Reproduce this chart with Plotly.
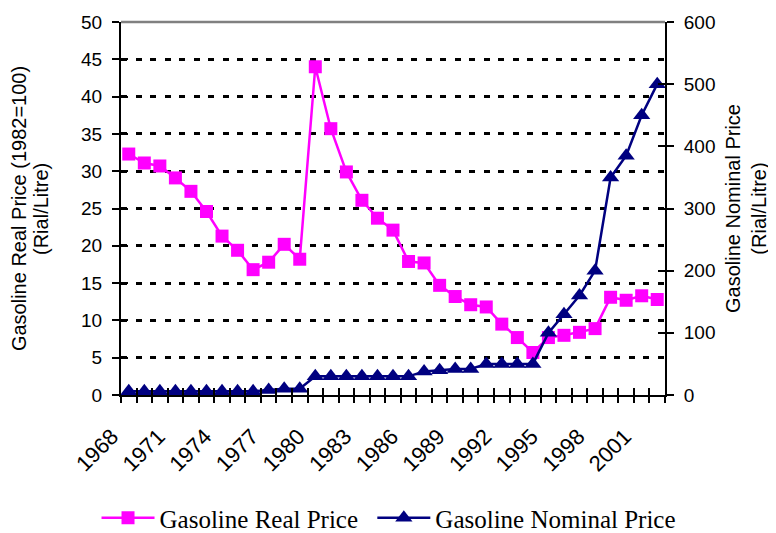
import plotly.graph_objects as go

years = list(range(1968, 2003))
real_price = [32.3, 31.1, 30.7, 29.1, 27.3, 24.6, 21.3, 19.4, 16.8, 17.8,
              20.2, 18.2, 44.0, 35.7, 29.9, 26.1, 23.7, 22.1, 17.9, 17.7,
              14.7, 13.2, 12.1, 11.8, 9.5, 7.7, 5.7, 7.7, 8.0, 8.4,
              8.9, 13.1, 12.7, 13.3, 12.8]
nominal_price = [6, 6, 6, 6, 6, 6, 6, 6, 6, 8,
                 10, 10, 30, 30, 30, 30, 30, 30, 30, 38,
                 40, 42, 42, 50, 50, 50, 50, 100, 130, 160,
                 200, 350, 385, 450, 500]
label_years = [1968, 1971, 1974, 1977, 1980, 1983, 1986, 1989, 1992, 1995, 1998, 2001]

font_ax = "Liberation Sans, Arial, sans-serif"
font_leg = "Liberation Serif, Times New Roman, serif"
TF = dict(family=font_ax, size=19, color="black")
XF = dict(family=font_ax, size=22, color="black")
LF = dict(family=font_leg, size=25, color="black")

fig = go.Figure()
fig.add_trace(go.Scatter(
    x=years, y=real_price, name="Gasoline Real Price", mode="lines+markers",
    line=dict(color="#FF00FF", width=2.5),
    marker=dict(symbol="square", size=13, color="#FF00FF"),
    yaxis="y", xaxis="x", legend="legend"))
fig.add_trace(go.Scatter(
    x=years, y=nominal_price, name="Gasoline Nominal Price", mode="lines+markers",
    line=dict(color="#000080", width=2.5),
    marker=dict(symbol="triangle-up", size=15, color="#000080"),
    yaxis="y2", xaxis="x", legend="legend2"))

bounds = [y - 0.5 for y in years] + [years[-1] + 0.5]
label_pos = [y - 0.5 for y in label_years]
xr = [years[0] - 0.5, years[-1] + 0.5]

tick_common = dict(ticklen=7, tickwidth=2, tickcolor="black")

# page body has an 8px margin, so the figure is sized/offset accordingly
fig.update_layout(
    width=768, height=525,
    margin=dict(l=113, r=111, t=14, b=138, autoexpand=False),
    paper_bgcolor="white", plot_bgcolor="white",
    showlegend=True,
    legend=dict(orientation="h", x=-0.045, xanchor="left", y=-0.33, yanchor="middle",
                font=LF, itemwidth=53, bgcolor="rgba(0,0,0,0)"),
    legend2=dict(orientation="h", x=0.462, xanchor="left", y=-0.33, yanchor="middle",
                 font=LF, itemwidth=53, bgcolor="rgba(0,0,0,0)"),
    xaxis=dict(range=xr, tickmode="array", tickvals=label_pos,
               ticktext=[str(y) for y in label_years],
               tickangle=-45, ticks="outside", ticklen=7, tickwidth=2,
               tickcolor="rgba(0,0,0,0)", ticklabelstandoff=11, ticklabelshift=-9,
               showline=True, linecolor="black", linewidth=2, showgrid=False,
               zeroline=False, tickfont=XF),
    xaxis2=dict(range=xr, overlaying="x", anchor="y", side="bottom",
                tickmode="array", tickvals=bounds, ticks="outside", **tick_common,
                showticklabels=False, showline=False, showgrid=False, zeroline=False),
    xaxis3=dict(range=xr, overlaying="x", anchor="y", side="bottom",
                tickmode="array", tickvals=bounds, ticks="inside", **tick_common,
                showticklabels=False, showline=False, showgrid=False, zeroline=False),
    yaxis=dict(range=[0, 50], dtick=5, ticks="outside", **tick_common,
               ticklabelstandoff=6,
               showline=True, linecolor="black", linewidth=2,
               showgrid=True, gridcolor="black", gridwidth=2.5, griddash="6px,8.5px",
               zeroline=False, tickfont=TF,
               title=dict(text="Gasoline Real Price (1982=100)",
                          font=dict(family=font_ax, size=20, color="black"),
                          standoff=51)),
    yaxis3=dict(range=[0, 50], dtick=5, overlaying="y", side="left", anchor="x",
                ticks="inside", **tick_common, showticklabels=False,
                showline=False, showgrid=False, zeroline=False),
    yaxis2=dict(range=[0, 600], dtick=100, overlaying="y", side="right", anchor="x",
                ticks="outside", **tick_common, ticklabelstandoff=6,
                showline=True, linecolor="black", linewidth=2, showgrid=False,
                zeroline=False, tickfont=TF,
                title=dict(text="Gasoline Nominal Price<br>(Rial/Litre)",
                           font=dict(family=font_ax, size=20, color="black"),
                           standoff=11)),
    yaxis4=dict(range=[0, 600], dtick=100, overlaying="y", side="right", anchor="x",
                ticks="inside", **tick_common, showticklabels=False,
                showline=False, showgrid=False, zeroline=False),
    annotations=[dict(text="(Rial/Litre)", textangle=-90, showarrow=False,
                      xref="paper", yref="paper", x=-0.148, y=0.5,
                      xanchor="center", yanchor="middle",
                      font=dict(family=font_ax, size=20, color="black"))],
    shapes=[dict(type="line", xref="x domain", yref="y domain", x0=0, x1=1, y0=1, y1=1,
                 line=dict(color="#808080", width=2.5), layer="below")],
)
# invisible helper traces so the overlay tick axes are drawn
for xa, ya in [("x2", "y"), ("x3", "y"), ("x", "y3"), ("x", "y4")]:
    fig.add_trace(go.Scatter(x=[xr[0]], y=[0], xaxis=xa, yaxis=ya, mode="markers",
                             marker=dict(opacity=0), showlegend=False, hoverinfo="skip"))

fig.write_html("out.html")
